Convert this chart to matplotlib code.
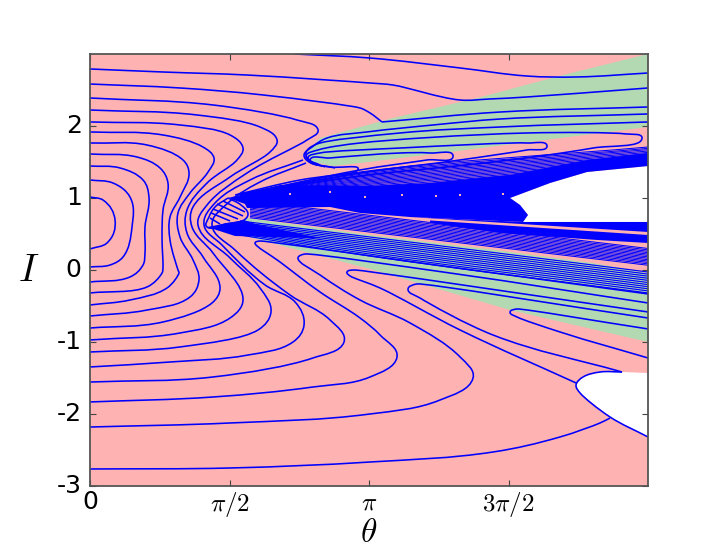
"""Phase portrait of (theta, I) with level curves over stable and unstable regions."""

import matplotlib

matplotlib.use("Agg")
import matplotlib.pyplot as plt
import numpy as np
from matplotlib.patches import PathPatch
from matplotlib.path import Path
from matplotlib.transforms import ScaledTranslation

PINK = "#ffb2b2"
GREEN = "#b3d9b3"
BLUE = "#0000ff"

# regions, (theta, I)
white_upper = [(4.73, 1.0), (5.18, 1.208), (5.597, 1.361), (6.283, 1.444), (6.283, 0.667),
               (4.876, 0.667), (4.932, 0.764), (4.842, 0.903)]
white_lower = [(5.473, -1.597), (5.552, -1.486), (5.743, -1.417), (5.991, -1.417), (6.283, -1.431),
               (6.283, -2.319), (5.856, -2.042), (5.518, -1.708)]
green_upper = [(6.283, 3.0), (5.327, 2.708), (4.358, 2.389), (3.412, 2.111), (3.041, 1.986),
               (2.59, 1.833), (2.444, 1.625), (2.511, 1.5), (2.736, 1.444), (3.041, 1.486),
               (4.054, 1.639), (6.283, 1.986)]
green_lower = [(1.768, 0.722), (3.153, 0.486), (4.471, 0.292), (5.664, 0.097), (6.283, -0.042),
               (6.283, -1.0), (4.73, -0.556), (3.153, 0.014), (1.577, 0.528)]

# areas where the curves pack into solid blue
solid_wedge = [(1.554, 1.0), (2.14, 1.181), (3.153, 1.167), (3.795, 1.208), (4.73, 1.319),
               (5.597, 1.528), (6.283, 1.625), (6.283, 1.444), (5.597, 1.361), (5.18, 1.208),
               (4.73, 1.0), (4.842, 0.903), (4.932, 0.764), (4.876, 0.667), (3.604, 0.736),
               (3.041, 0.792), (2.703, 0.875), (1.768, 0.861), (1.745, 0.917)]
solid_apex = [(1.318, 0.597), (1.734, 0.694), (1.858, 0.639), (2.6, 0.44), (1.633, 0.472)]
solid_right_a = [(3.604, 0.736), (4.876, 0.667), (6.283, 0.667), (6.283, 0.528)]
solid_right_b = [(3.829, 0.688), (6.283, 0.486), (6.283, 0.375), (5.709, 0.417), (4.617, 0.514), (3.829, 0.653)]

# closed-off curves on the left side
nest_1 = [(0, 1.014), (0.146, 0.972), (0.282, 0.694), (0.191, 0.375), (0, 0.292)]
nest_2 = [(0, 1.25), (0.259, 1.208), (0.45, 1.014), (0.473, 0.597), (0.372, 0.181), (0.225, 0.069), (0, 0.042)]
nest_3 = [(0, 1.444), (0.338, 1.417), (0.597, 1.25), (0.664, 1.014), (0.619, 0.597), (0.619, 0.236),
          (0.597, 0.069), (0.45, -0.097), (0, -0.167)]
nest_4 = [(0, 1.611), (0.529, 1.569), (0.788, 1.417), (0.878, 1.208), (0.822, 0.833), (0.811, 0.458),
          (0.822, 0.042), (0.811, -0.042), (0.642, -0.236), (0, -0.319)]
nest_5 = [(0, 1.764), (0.642, 1.736), (1.047, 1.528), (1.115, 1.347), (1.014, 1.014), (0.901, 0.736),
          (0.901, 0.417), (0.991, 0.0), (1.002, -0.042), (0.867, -0.25), (0.45, -0.417), (0, -0.486)]
nest_6 = [(0, 1.917), (0.822, 1.875), (1.272, 1.708), (1.396, 1.556), (1.329, 1.361), (1.126, 1.069),
          (0.991, 0.792), (1.014, 0.458), (1.16, 0.139), (1.227, -0.139), (1.126, -0.375), (0.642, -0.556), (0, -0.639)]
nest_7 = [(0, 2.056), (1.014, 2.014), (1.577, 1.875), (1.723, 1.694), (1.655, 1.528), (1.318, 1.208),
          (1.092, 0.833), (1.092, 0.514), (1.273, 0.181), (1.464, -0.25), (1.374, -0.458), (0.822, -0.722), (0, -0.806)]
nest_8 = [(0, 2.222), (1.205, 2.153), (1.914, 1.986), (2.106, 1.806), (2.027, 1.639), (1.577, 1.292),
          (1.16, 0.875), (1.149, 0.597), (1.385, 0.236), (1.723, -0.417), (1.577, -0.667), (1.014, -0.875), (0, -0.972)]
nest_9 = [(0, 2.389), (1.385, 2.292), (2.331, 2.083), (2.568, 1.944), (2.444, 1.806), (1.768, 1.347),
          (1.318, 0.903), (1.216, 0.625), (1.577, 0.167), (1.914, -0.25), (2.038, -0.583), (1.892, -0.833),
          (1.014, -1.069), (0, -1.139)]
nest_10 = [(2.399, 1.528), (1.802, 1.25), (1.408, 0.931), (1.284, 0.625), (1.486, 0.347), (1.971, -0.208),
           (2.309, -0.444), (2.41, -0.764), (2.286, -1.0), (1.779, -1.181), (0.901, -1.278), (0, -1.347)]
nest_11 = [(2.432, 1.486), (1.914, 1.222), (1.554, 0.931), (1.374, 0.625), (1.633, 0.278), (2.252, -0.347),
           (2.703, -0.694), (2.86, -1.0), (2.511, -1.222), (1.385, -1.486), (0, -1.556)]

# curves that turn back in the lower half
fold_g = [(0, -1.833), (1.385, -1.764), (2.511, -1.625), (3.153, -1.486), (3.457, -1.208), (3.266, -0.903),
          (3.041, -0.667), (2.59, -0.306), (2.14, 0.111), (1.858, 0.375), (1.914, 0.403), (4.054, 0.042), (6.283, -0.333)]
fold_h = [(0, -2.181), (1.577, -2.125), (3.153, -2.0), (3.941, -1.806), (4.313, -1.5), (4.167, -1.208),
          (3.604, -0.736), (3.041, -0.417), (2.59, -0.069), (2.342, 0.167), (2.421, 0.222), (4.054, -0.042), (6.283, -0.458)]
fold_i = [(5.473, -1.569), (4.167, -0.833), (3.266, -0.25), (2.928, -0.083), (2.894, -0.028), (2.984, 0.0), (6.283, -0.583)]
fold_j = [(5.991, -1.417), (4.538, -0.903), (3.716, -0.389), (3.581, -0.264), (3.682, -0.194), (6.283, -0.667)]
fold_k = [(6.283, -1.222), (5.293, -0.861), (4.809, -0.653), (4.73, -0.583), (4.809, -0.542), (6.283, -0.819)]
bottom_curve = [(0, -2.764), (1.577, -2.75), (3.153, -2.667), (4.538, -2.528), (5.293, -2.319), (5.743, -2.125), (5.856, -2.056)]
white_edge = [(5.991, -1.417), (5.743, -1.417), (5.552, -1.486), (5.473, -1.597), (5.518, -1.708), (5.856, -2.042), (6.283, -2.319)]

# curves in the top part
top_curve = [(2.309, 3.0), (3.153, 2.944), (4.167, 2.806), (4.921, 2.694), (5.484, 2.681), (6.283, 2.736)]
upper_curve = [(0, 2.792), (0.822, 2.75), (1.768, 2.708), (3.153, 2.597), (3.412, 2.569), (4.167, 2.361),
               (4.5, 2.375), (4.921, 2.403), (6.283, 2.528)]
kink_left = [(0, 2.583), (1.014, 2.528), (1.948, 2.431), (3.041, 2.25), (3.153, 2.181), (3.288, 2.056)]
kink_right = [(3.288, 2.056), (4.617, 2.194), (6.283, 2.264)]

# upper lens, the curves enter from the right
lens_a = [(6.283, 2.167), (4.617, 2.097), (3.863, 2.014), (3.119, 1.917), (2.669, 1.833), (2.5, 1.708), (2.41, 1.597),
          (2.466, 1.5), (2.703, 1.431), (3.018, 1.417), (2.984, 1.361), (2.365, 1.25), (1.633, 1.042)]
lens_b = [(6.283, 2.056), (4.617, 1.986), (3.491, 1.903), (2.556, 1.75), (2.432, 1.625), (2.5, 1.5), (2.759, 1.417)]
lens_c = [(1.689, 1.056), (3.041, 1.306), (4.538, 1.5), (5.664, 1.694), (6.216, 1.833), (6.03, 1.89), (4.921, 1.903),
          (3.041, 1.764), (2.568, 1.667), (2.432, 1.583), (2.511, 1.486)]
lens_d = [(1.689, 1.042), (3.041, 1.347), (4.167, 1.528), (4.921, 1.667), (5.146, 1.722), (4.921, 1.764), (3.491, 1.694),
          (2.59, 1.625), (2.455, 1.556), (2.59, 1.458)]
lens_e = [(1.689, 1.042), (3.041, 1.389), (3.795, 1.528), (4.088, 1.583), (3.829, 1.625), (3.491, 1.625), (2.703, 1.556),
          (2.477, 1.528), (2.646, 1.431)]

# small lens near the neck
neck_loop = [(1.554, 1.0), (1.408, 0.875), (1.34, 0.736), (1.318, 0.597), (1.52, 0.639), (1.734, 0.694), (1.779, 0.778),
             (1.7, 0.903), (1.554, 1.0)]
neck_stripe_start = [(1.498, 0.958), (1.43, 0.917), (1.385, 0.847), (1.363, 0.792), (1.351, 0.722)]
neck_stripe_end = [(1.745, 0.806), (1.723, 0.75), (1.667, 0.708), (1.577, 0.681), (1.464, 0.639)]

# packed families of curves, I at fixed theta stations
fan_top_theta = [1.689, 3.041, 6.283]
fan_top_left = [1.056, 1.051, 1.046, 1.041, 1.036, 1.032, 1.027, 1.022, 1.017, 1.012, 1.007, 1.002, 0.997, 0.993]
fan_top_mid = [1.361, 1.344, 1.328, 1.311, 1.294, 1.278, 1.261, 1.244, 1.228, 1.211, 1.194, 1.178, 1.161, 1.144]
fan_top_right = [1.708, 1.689, 1.671, 1.652, 1.633, 1.615, 1.596, 1.577, 1.558, 1.54, 1.521, 1.502, 1.483, 1.465]

fan_band_theta = [1.802, 6.283]
fan_band_left = [0.958, 0.939, 0.919, 0.9, 0.881, 0.861, 0.842, 0.822, 0.803, 0.783, 0.764, 0.744, 0.725]
fan_band_right = [0.299, 0.28, 0.26, 0.241, 0.221, 0.202, 0.182, 0.163, 0.143, 0.124, 0.105, 0.085, 0.066]

fan_low_theta = [1.689, 3.153, 6.283]
fan_low_left = [0.681, 0.661, 0.642, 0.622, 0.603, 0.583, 0.564, 0.544, 0.525, 0.506, 0.486]
fan_low_mid = [0.458, 0.432, 0.406, 0.379, 0.353, 0.326, 0.3, 0.274, 0.247, 0.221, 0.194]
fan_low_right = [-0.028, -0.057, -0.086, -0.115, -0.144, -0.174, -0.203, -0.232, -0.261, -0.29, -0.319]

speck_theta = [2.252, 2.703, 3.51, 4.167, 4.651, 3.9, 3.1]
speck_I = [1.056, 1.083, 1.042, 1.042, 1.056, 1.028, 1.014]

x_ticks = [0, np.pi / 2, np.pi, 3 * np.pi / 2]
x_labels = ["0", r"$\pi/2$", r"$\pi$", r"$3\pi/2$"]
y_ticks = [-3, -2, -1, 0, 1, 2]
y_labels = ["-3", "-2", "-1", "0", "1", "2"]


def smooth_path(points):
    p = np.asarray(points, dtype=float)
    seg = np.diff(p, axis=0)
    dist = np.maximum(np.hypot(seg[:, 0], seg[:, 1]), 1e-6)
    unit = seg / dist[:, None]
    tang = np.zeros_like(p)
    tang[0] = unit[0]
    tang[-1] = unit[-1]
    for i in range(1, len(p) - 1):
        # bisector of the two neighbouring chords
        mid = unit[i - 1] + unit[i]
        tang[i] = mid / max(np.hypot(mid[0], mid[1]), 1e-6)
    verts = [p[0]]
    codes = [Path.MOVETO]
    for i in range(len(p) - 1):
        # keep the handles short next to a tight turn
        out = dist[i] if i == 0 else min(dist[i], 2 * dist[i - 1])
        back = dist[i] if i == len(p) - 2 else min(dist[i], 2 * dist[i + 1])
        verts.append(p[i] + tang[i] * out * 0.36)
        verts.append(p[i + 1] - tang[i + 1] * back * 0.36)
        verts.append(p[i + 1])
        codes += [Path.CURVE4, Path.CURVE4, Path.CURVE4]
    return Path(verts, codes)


def draw_curve(ax, points, lw=1.15):
    ax.add_patch(PathPatch(smooth_path(points), fill=False, edgecolor=BLUE, lw=lw, zorder=3))


def fill_region(ax, points, color, zorder=1):
    xs, ys = zip(*points)
    ax.fill(xs, ys, color=color, lw=0, zorder=zorder)


plt.rcParams["mathtext.fontset"] = "cm"
fig = plt.figure(figsize=(7.2, 5.51), dpi=100)
ax = fig.add_axes([0.125, 0.118, 0.775, 0.784])
ax.set_facecolor(PINK)

for region in (white_upper, white_lower):
    fill_region(ax, region, "white")
for region in (green_upper, green_lower):
    fill_region(ax, region, GREEN)

for left, mid, right in zip(fan_top_left, fan_top_mid, fan_top_right):
    draw_curve(ax, list(zip(fan_top_theta, [left, mid, right])), lw=0.75)
for left, right in zip(fan_band_left, fan_band_right):
    draw_curve(ax, list(zip(fan_band_theta, [left, right])), lw=0.75)
for left, mid, right in zip(fan_low_left, fan_low_mid, fan_low_right):
    draw_curve(ax, list(zip(fan_low_theta, [left, mid, right])), lw=0.85)

for region in (solid_wedge, solid_apex, solid_right_a, solid_right_b):
    fill_region(ax, region, BLUE, zorder=4)
ax.scatter(speck_theta, speck_I, s=1.5, color=PINK, marker="s", lw=0, zorder=5)

for curve in (nest_1, nest_2, nest_3, nest_4, nest_5, nest_6, nest_7, nest_8, nest_9, nest_10, nest_11,
              fold_g, fold_h, fold_i, fold_j, fold_k, bottom_curve, white_edge,
              top_curve, upper_curve, kink_left, kink_right,
              lens_a, lens_b, lens_c, lens_d, lens_e, neck_loop):
    draw_curve(ax, curve)
for start, end in zip(neck_stripe_start, neck_stripe_end):
    draw_curve(ax, [start, end])

ax.set_xlim(0, 2 * np.pi)
ax.set_ylim(-3, 3)
ax.set_xticks(x_ticks)
ax.set_xticklabels(x_labels, fontsize=18)
ax.set_yticks(y_ticks)
ax.set_yticklabels(y_labels, fontsize=18)
ax.tick_params(direction="in", top=True, right=True, length=4, width=0.8, color="#444444")
ax.tick_params(axis="x", pad=3)
ax.tick_params(axis="y", pad=6)
lift = ScaledTranslation(0, 2.5 / 100, fig.dpi_scale_trans)
for label in ax.get_yticklabels():
    label.set_transform(label.get_transform() + lift)
for spine in ax.spines.values():
    spine.set_linewidth(1.3)
    spine.set_color("#555555")
    spine.set_zorder(6)

ax.set_xlabel(r"$\theta$", fontsize=24, labelpad=-2)
ax.set_ylabel(r"$I$", fontsize=28, rotation=0, labelpad=20, va="center")

fig.savefig("out.png", dpi=100)
